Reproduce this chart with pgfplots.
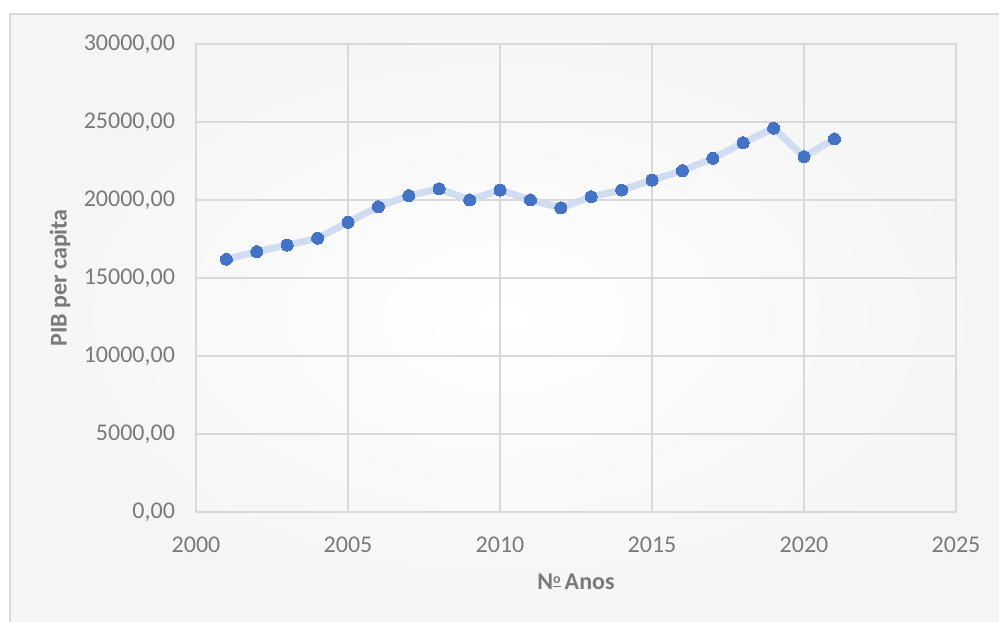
\documentclass[border=0pt]{standalone}
\usepackage{pgfplots}
\pgfplotsset{compat=1.18}
\usepackage{fontspec}
\setmainfont{Carlito}
\definecolor{gridgray}{HTML}{D9D9D9}
\definecolor{textgray}{HTML}{7A7A7A}
\definecolor{markblue}{HTML}{4472C4}
\definecolor{lineblue}{HTML}{D0DCF0}
\begin{document}
\begin{tikzpicture}[x=1pt,y=1pt]
  \useasboundingbox (0,0) rectangle (499.5,310.5);
  % chart area with a soft background
  \shade[inner color=white, outer color=black!4] (5,0) rectangle (499.5,303.5);
  \draw[gridgray, line width=1pt] (5,-2) -- (5,303.5) -- (502,303.5);
  \begin{axis}[
    at={(98pt,54.5pt)}, anchor=south west,
    scale only axis, width=380pt, height=234pt,
    xmin=2000, xmax=2025, ymin=0, ymax=30000,
    xtick={2000,2005,...,2025},
    ytick={0,5000,...,30000},
    grid=major,
    major grid style={gridgray, line width=1pt},
    axis line style={gridgray, line width=1pt},
    major tick length=0pt,
    font=\fontsize{12}{14}\selectfont,
    tick label style={textgray, font=\fontsize{12}{14}\selectfont},
    /pgf/number format/assume math mode=true,
    yticklabel style={/pgf/number format/fixed, /pgf/number format/fixed zerofill,
      /pgf/number format/precision=2, /pgf/number format/use comma,
      /pgf/number format/1000 sep={}, xshift=-7pt},
    xticklabel style={/pgf/number format/1000 sep={}, yshift=-9pt},
    scaled y ticks=false,
    xlabel={\bfseries N\raisebox{0.55ex}{\underline{\fontsize{7}{8}\selectfont o}}\,Anos},
    ylabel={\bfseries PIB per capita},
    xlabel style={textgray, at={(axis description cs:0.5,0)}, anchor=center, yshift=-35pt},
    ylabel style={textgray, at={(axis description cs:0,0.5)}, anchor=center, rotate=0, yshift=68pt},
    clip=false,
  ]
    \addplot[lineblue, line width=3.5pt, line join=round,
             mark=*, mark size=3pt,
             mark options={draw=markblue, fill=markblue, line width=0pt}]
      coordinates {
        (2001,16200) (2002,16690) (2003,17110) (2004,17550) (2005,18570)
        (2006,19570) (2007,20280) (2008,20720) (2009,20000) (2010,20640)
        (2011,20000) (2012,19500) (2013,20210) (2014,20640) (2015,21280)
        (2016,21880) (2017,22670) (2018,23670) (2019,24600) (2020,22780)
        (2021,23910)
      };
  \end{axis}
\end{tikzpicture}
\end{document}
